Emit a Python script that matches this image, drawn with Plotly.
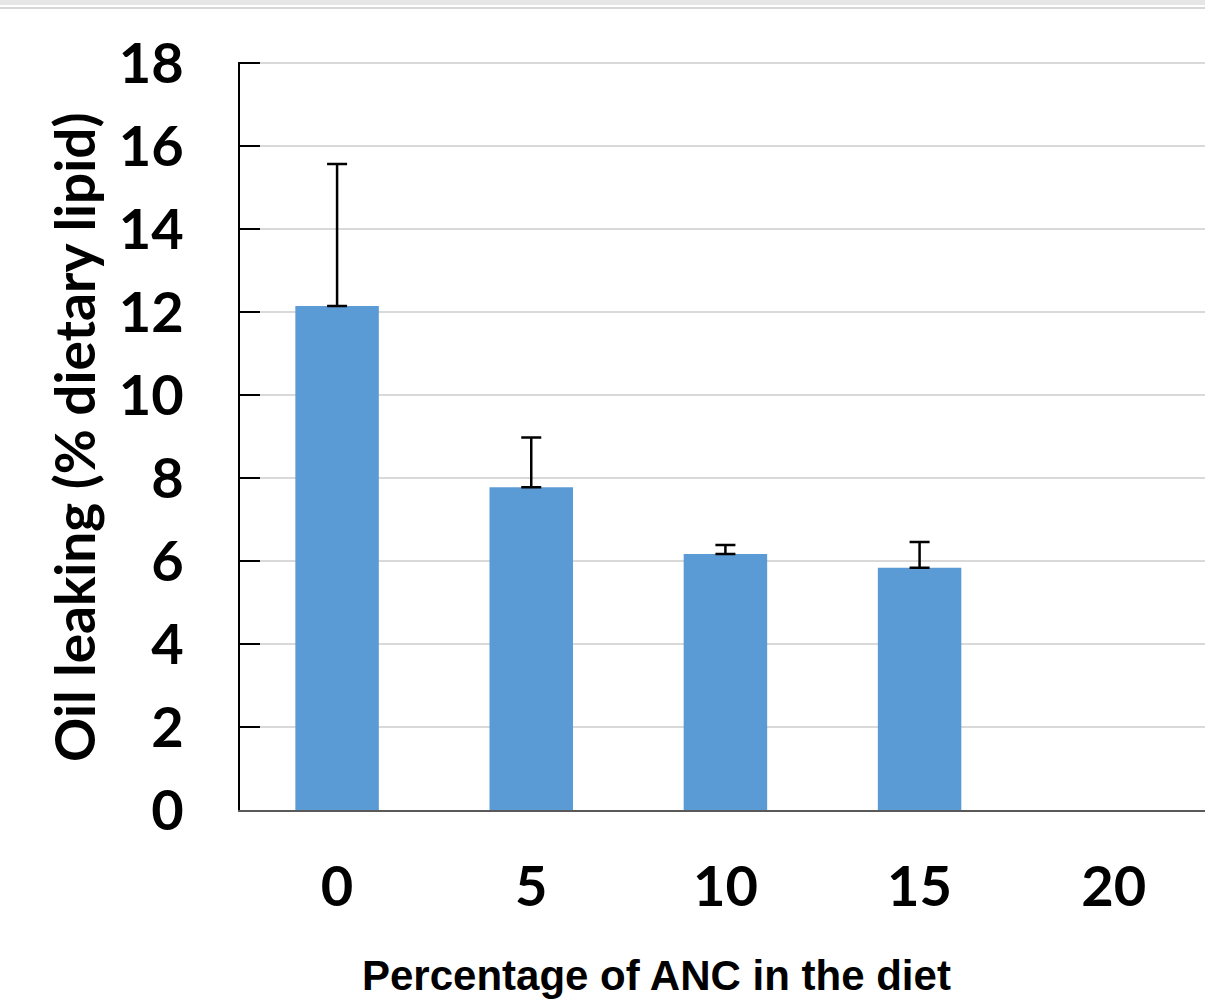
import plotly.graph_objects as go

categories = ["0", "5", "10", "15", "20"]
values = [12.15, 7.78, 6.17, 5.84, None]
errors = [3.42, 1.20, 0.22, 0.62, None]
y_ticks = [0, 2, 4, 6, 8, 10, 12, 14, 16, 18]

W, H = 1205, 1002
L, R, T, B = 240, 0, 62, 192
pw, ph = W - L - R, H - T - B

def px_x(q):
    return (q - L) / pw

def px_y(p):
    return (H - B - p) / ph

fig = go.Figure()
fig.add_trace(go.Bar(
    x=categories, y=values,
    marker=dict(color="#5B9BD5", line=dict(width=0)),
    error_y=dict(type="data", array=errors, arrayminus=[0] * len(errors),
                 symmetric=False, color="#000000", thickness=2.5, width=10),
))

tick_font = dict(family="Lato", size=56, color="#000000", weight="bold")

fig.update_layout(
    width=W, height=H,
    margin=dict(l=L, r=R, t=T, b=B, autoexpand=False),
    paper_bgcolor="white", plot_bgcolor="white",
    showlegend=False,
    bargap=0.57,
    xaxis=dict(type="category", range=[-0.5, 4.47], showgrid=False,
               showline=True, linecolor="#595959", linewidth=2,
               ticks="", tickfont=tick_font, ticklabelstandoff=27,
               zeroline=False),
    yaxis=dict(range=[0, 18.03], tickvals=y_ticks, showgrid=True,
               gridcolor="#d9d9d9", gridwidth=1.5,
               showline=True, linecolor="#000000", linewidth=2,
               ticks="inside", ticklen=20, tickwidth=2, tickcolor="#000000",
               tickfont=tick_font, ticklabelstandoff=43, zeroline=False),
    annotations=[
        dict(text="Oil leaking (% dietary lipid)", textangle=-90,
             xref="paper", yref="paper", x=px_x(74), y=px_y(437),
             xanchor="center", yanchor="middle", showarrow=False,
             font=dict(family="Lato", size=55, color="#000000", weight="bold")),
        dict(text="Percentage of ANC in the diet",
             xref="paper", yref="paper", x=px_x(656), y=px_y(975),
             xanchor="center", yanchor="middle", showarrow=False,
             font=dict(family="Liberation Sans", size=42, color="#000000", weight="bold")),
    ],
    shapes=[
        dict(type="rect", xref="paper", yref="paper", x0=px_x(0), x1=px_x(W),
             y0=px_y(5), y1=px_y(0), fillcolor="#e6e6e6", line=dict(width=0), layer="above"),
        dict(type="line", xref="paper", yref="paper", x0=px_x(0), x1=px_x(W),
             y0=px_y(8), y1=px_y(8), line=dict(color="#d6d6d6", width=2), layer="above"),
    ],
)

fig.write_html("out.html", config={"displayModeBar": False},
               post_script="document.body.style.margin='0px';document.body.style.overflow='hidden';")
